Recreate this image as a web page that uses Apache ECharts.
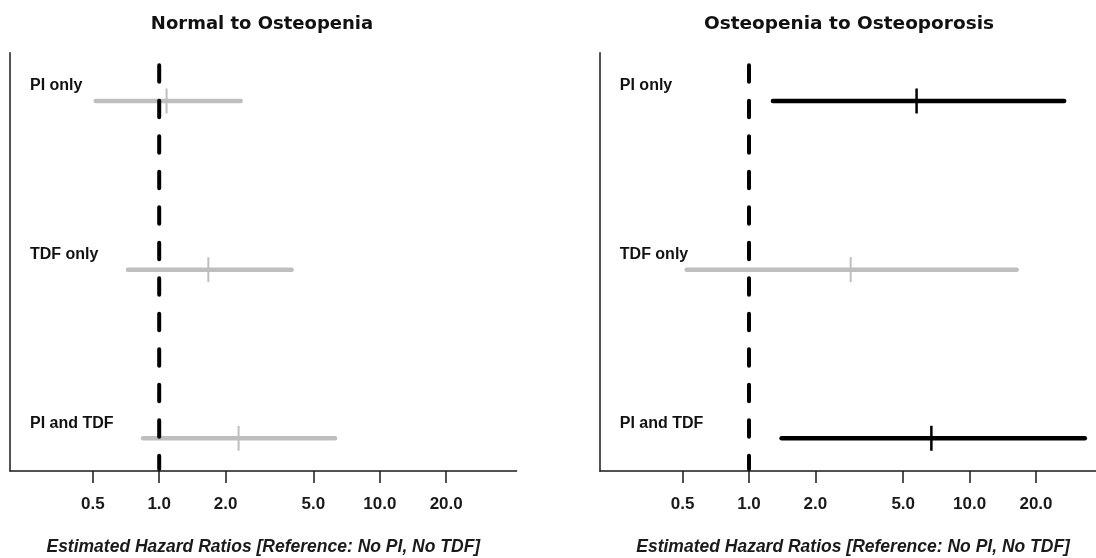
<!DOCTYPE html>
<html>
<head>
<meta charset="utf-8">
<script src="https://cdn.jsdelivr.net/npm/echarts@6/dist/echarts.min.js"></script>
<style>
html,body{margin:0;padding:0;background:#fff;}
#chart{width:1096px;height:558px;}
</style>
</head>
<body>
<div id="chart"></div>
<script>
// ---- data ----
const categories = ['PI only', 'TDF only', 'PI and TDF'];
const panelTitles = ['Normal to Osteopenia', 'Osteopenia to Osteoporosis'];
const axisTitle = 'Estimated Hazard Ratios [Reference: No PI, No TDF]';
const tickValues = [0.5, 1, 2, 5, 10, 20];
const refValue = 1;

// Normal to Osteopenia
const normEst   = [1.08, 1.67, 2.29];
const normLower = [0.505, 0.707, 0.828];
const normUpper = [2.39, 4.07, 6.40];

// Osteopenia to Osteoporosis
const osteoEst   = [5.75, 2.89, 6.71];
const osteoLower = [1.257, 0.511, 1.376];
const osteoUpper = [27.4, 16.7, 34.0];

// ---- chart ----
const X_MIN = 0.2107, X_MAX = 41.7;
const Y_MIN = 0.7137, Y_MAX = 3.194;
const FONT = 'Liberation Sans, Arial, sans-serif';
const AXIS_COLOR = '#1a1a1a';

function rows(lower, upper, est) {
  return categories.map((c, i) => [lower[i], upper[i], est[i], i + 1]);
}

function renderCI(params, api) {
  const lo = api.value(0), hi = api.value(1), est = api.value(2), row = api.value(3);
  const p0 = api.coord([lo, row]);
  const p1 = api.coord([hi, row]);
  const pe = api.coord([est, row]);
  const significant = lo > refValue;
  const color = significant ? '#000000' : '#bebebe';
  return {
    type: 'group',
    children: [
      { type: 'line', shape: { x1: p0[0] + 2, y1: p0[1], x2: p1[0] - 2, y2: p1[1] },
        style: { stroke: color, lineWidth: 4.5, lineCap: 'round' } },
      { type: 'line', shape: { x1: pe[0], y1: pe[1] - 12.5, x2: pe[0], y2: pe[1] + 12.5 },
        style: { stroke: color, lineWidth: significant ? 2.5 : 2, lineCap: 'butt' } }
    ]
  };
}

function renderRef(params, api) {
  const cs = params.coordSys;
  const p = api.coord([api.value(0), Y_MIN]);
  return {
    type: 'line',
    shape: { x1: p[0], y1: cs.y + 12.6, x2: p[0], y2: cs.y + cs.height - 2 },
    style: { stroke: '#000', lineWidth: 4, lineCap: 'round', lineDash: [16.5, 19] }
  };
}

const gridTop = 52.7, gridHeight = 418.3, gridWidth = 506.6;
const gridLefts = [10, 599.8];
const titleCenters = [257, 844];

const xAxes = gridLefts.map((l, gi) => ({
  type: 'log', logBase: 10, gridIndex: gi, min: X_MIN, max: X_MAX,
  axisLine: { show: true, onZero: false, lineStyle: { color: AXIS_COLOR, width: 1.5 } },
  axisTick: { show: true, customValues: tickValues, length: 12, inside: false,
              lineStyle: { color: AXIS_COLOR, width: 1.5 } },
  minorTick: { show: false },
  axisLabel: { customValues: tickValues, formatter: v => Number(v).toFixed(1),
               margin: 25, fontSize: 17, fontWeight: 'bold', color: '#1a1a1a', fontFamily: FONT },
  splitLine: { show: false },
  name: axisTitle, nameLocation: 'middle', nameGap: 67,
  nameTextStyle: { fontSize: 17.5, fontWeight: 'bold', fontStyle: 'italic', color: '#1a1a1a', fontFamily: FONT }
}));

const yAxes = gridLefts.map((l, gi) => ({
  type: 'value', gridIndex: gi, inverse: true, min: Y_MIN, max: Y_MAX,
  axisLine: { show: true, onZero: false, lineStyle: { color: AXIS_COLOR, width: 1.5 } },
  axisTick: { show: false },
  splitLine: { show: false },
  axisLabel: { inside: true, customValues: [1, 2, 3], formatter: v => categories[Math.round(v) - 1] || '',
               margin: 20, fontSize: 16, fontWeight: 'bold', color: '#111', fontFamily: FONT,
               verticalAlign: 'bottom', lineHeight: 30, align: 'left' }
}));

const option = {
  backgroundColor: '#ffffff',
  animation: false,
  title: panelTitles.map((t, i) => ({
    text: t, left: titleCenters[i], top: 10, textAlign: 'center',
    textStyle: { fontSize: i === 0 ? 18 : 18.5, fontWeight: 'bold', color: '#111', fontFamily: 'DejaVu Sans, sans-serif' }
  })),
  grid: gridLefts.map(l => ({ left: l, top: gridTop, width: gridWidth, height: gridHeight,
                              containLabel: false, outerBoundsMode: 'none' })),
  xAxis: xAxes,
  yAxis: yAxes,
  series: [
    { type: 'custom', name: panelTitles[0], xAxisIndex: 0, yAxisIndex: 0, renderItem: renderCI,
      encode: { x: [0, 1, 2], y: 3 }, data: rows(normLower, normUpper, normEst), z: 2, clip: false },
    { type: 'custom', name: panelTitles[1], xAxisIndex: 1, yAxisIndex: 1, renderItem: renderCI,
      encode: { x: [0, 1, 2], y: 3 }, data: rows(osteoLower, osteoUpper, osteoEst), z: 2, clip: false },
    { type: 'custom', xAxisIndex: 0, yAxisIndex: 0, renderItem: renderRef,
      encode: { x: 0 }, data: [[refValue]], z: 3, silent: true },
    { type: 'custom', xAxisIndex: 1, yAxisIndex: 1, renderItem: renderRef,
      encode: { x: 0 }, data: [[refValue]], z: 3, silent: true }
  ]
};

const chart = echarts.init(document.getElementById('chart'), null, { renderer: 'canvas' });
chart.setOption(option);
</script>
</body>
</html>
